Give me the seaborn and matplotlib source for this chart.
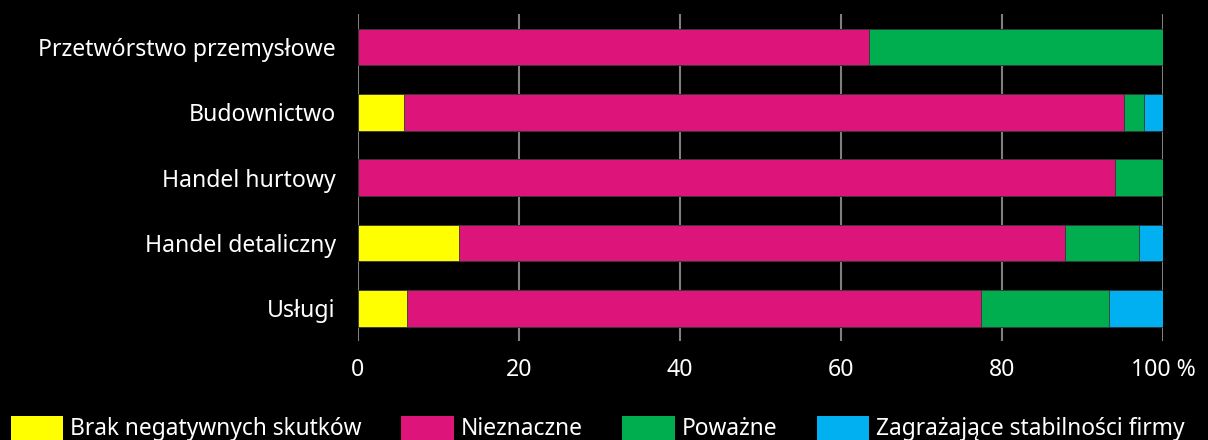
import matplotlib
matplotlib.use("Agg")
import matplotlib.pyplot as plt
import seaborn as sns
import numpy as np
import pandas as pd
from matplotlib.patches import Patch

categories = ["Przetwórstwo przemysłowe", "Budownictwo", "Handel hurtowy",
              "Handel detaliczny", "Usługi"]
series_names = ["Brak negatywnych skutków", "Nieznaczne", "Poważne",
                "Zagrażające stabilności firmy"]
brak = [0.0, 5.7, 0.0, 12.5, 6.1]
nieznaczne = [63.5, 89.5, 94.0, 75.3, 71.3]
powazne = [36.5, 2.4, 6.0, 9.2, 15.9]
zagrazajace = [0.0, 2.4, 0.0, 3.0, 6.7]
colors = ["#ffff00", "#dd157a", "#00ae4f", "#00b0f0"]
xticks = [0, 20, 40, 60, 80, 100]
xticklabels = ["0", "20", "40", "60", "80", "100 %"]

sns.set_style("dark")
plt.rcParams["font.family"] = ["Noto Sans", "DejaVu Sans"]

fig = plt.figure(figsize=(12.08, 4.40), dpi=100, facecolor="black")
ax = fig.add_axes([358/1208, 1-341/440, (1163-358)/1208, (341-14.4)/440])
ax.set_facecolor("black")

values = [brak, nieznaczne, powazne, zagrazajace]
cum = np.cumsum(np.array(values), axis=0)
for i in range(len(values)-1, -1, -1):
    df = pd.DataFrame({"cat": categories, "val": cum[i]})
    sns.barplot(data=df, y="cat", x="val", color=colors[i], orient="h",
                width=0.56, ax=ax, saturation=1, edgecolor="#333333",
                linewidth=0.6, zorder=2)

ax.set_xlim(0, 100)
ax.set_ylim(4.5, -0.5)
ax.set_xticks(xticks)
ax.set_xticklabels(xticklabels)
ax.xaxis.grid(True, color="#7f7f7f", linewidth=1.5, zorder=0)
ax.yaxis.grid(False)
ax.set_axisbelow(True)
for s in ax.spines.values():
    s.set_visible(False)
ax.set_xlabel("")
ax.set_ylabel("")
ax.tick_params(axis="both", length=0, colors="white", labelsize=16.6)
ax.tick_params(axis="y", pad=16)
ax.tick_params(axis="x", pad=12)

handles = [Patch(facecolor=c, edgecolor="none") for c in colors]
fig.legend(handles, series_names, loc="upper left", bbox_to_anchor=(6/1208, 1-411/440),
           ncol=4, frameon=False, fontsize=16.4, labelcolor="white",
           handlelength=2.3, handleheight=1.25, handletextpad=0.3,
           columnspacing=1.75, borderaxespad=0, borderpad=0.2)

fig.savefig("out.png", dpi=100, facecolor="black")
